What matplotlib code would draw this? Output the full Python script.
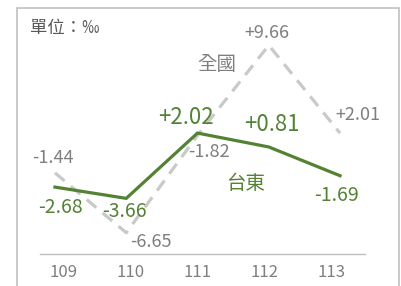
import matplotlib
matplotlib.use("Agg")
import matplotlib.pyplot as plt
from matplotlib.patches import Rectangle

plt.rcParams['font.family'] = ['Noto Sans CJK TC', 'DejaVu Sans']

years = ['109', '110', '111', '112', '113']
taitung = [-2.68, -3.66, 2.02, 0.81, -1.69]
national = [-1.44, -6.65, 1.82, 9.66, 2.01]
taitung_labels = ['-2.68', '-3.66', '+2.02', '+0.81', '-1.69']
national_labels = ['-1.44', '-6.65', '-1.82', '+9.66', '+2.01']

green = '#548235'
gray_line = '#c9c9c9'
gray_text = '#7f7f7f'

fig = plt.figure(figsize=(4.01, 2.86), dpi=100)
W, H = 401, 286

# outer frame
fig.patches.append(Rectangle((17 / W, -0.05), (399 - 17) / W, (286 - 8) / H + 0.05,
                             transform=fig.transFigure, fill=False,
                             edgecolor='#c0c0c0', linewidth=1.2))

ax = fig.add_axes([40 / W, (H - 254) / H, (365 - 40) / W, (254 - 8) / H])
ax.set_facecolor('none')
x = list(range(len(years)))

ax.plot(x, national, color=gray_line, linewidth=2.3, dashes=(3.9, 2.6))
ax.plot(x, taitung, color=green, linewidth=2.3, solid_joinstyle='miter')

ax.set_xlim(-0.21, 4.35)
ax.set_ylim(-8.5, 12.9)

for s in ['top', 'right', 'left']:
    ax.spines[s].set_visible(False)
ax.spines['bottom'].set_color('#bfbfbf')
ax.spines['bottom'].set_linewidth(1.0)
ax.set_yticks([])
# tick labels sit a little inside the line ends
ax.set_xticks([2 + (i - 2) * 0.94 for i in x])
ax.set_xticklabels(years, fontsize=12, color=gray_text)
ax.tick_params(axis='x', length=0, pad=7)

nat_off = [(-2, 15), (25, -9), (11, -17), (-2, 12), (18, 18)]
tt_off = [(5, -20), (-2, -13), (-12, 16), (3, 22), (-4, -20)]
tt_size = [14, 14, 16, 16, 14]

for i in x:
    ax.annotate(national_labels[i], (x[i], national[i]), xytext=nat_off[i],
                textcoords='offset pixels', ha='center', va='center',
                fontsize=13, color=gray_text)
    ax.annotate(taitung_labels[i], (x[i], taitung[i]), xytext=tt_off[i],
                textcoords='offset pixels', ha='center', va='center',
                fontsize=tt_size[i], color=green)

ax.text(2.27, 8.0, '全國', fontsize=14, color=gray_text, ha='center', va='center')
ax.text(2.67, -2.33, '台東', fontsize=14, color=green, ha='center', va='center')

fig.text(30 / W, 1 - 28 / H, '單位：‰', fontsize=12.5, color='#595959',
         ha='left', va='center')

fig.savefig('out.png', dpi=100)
